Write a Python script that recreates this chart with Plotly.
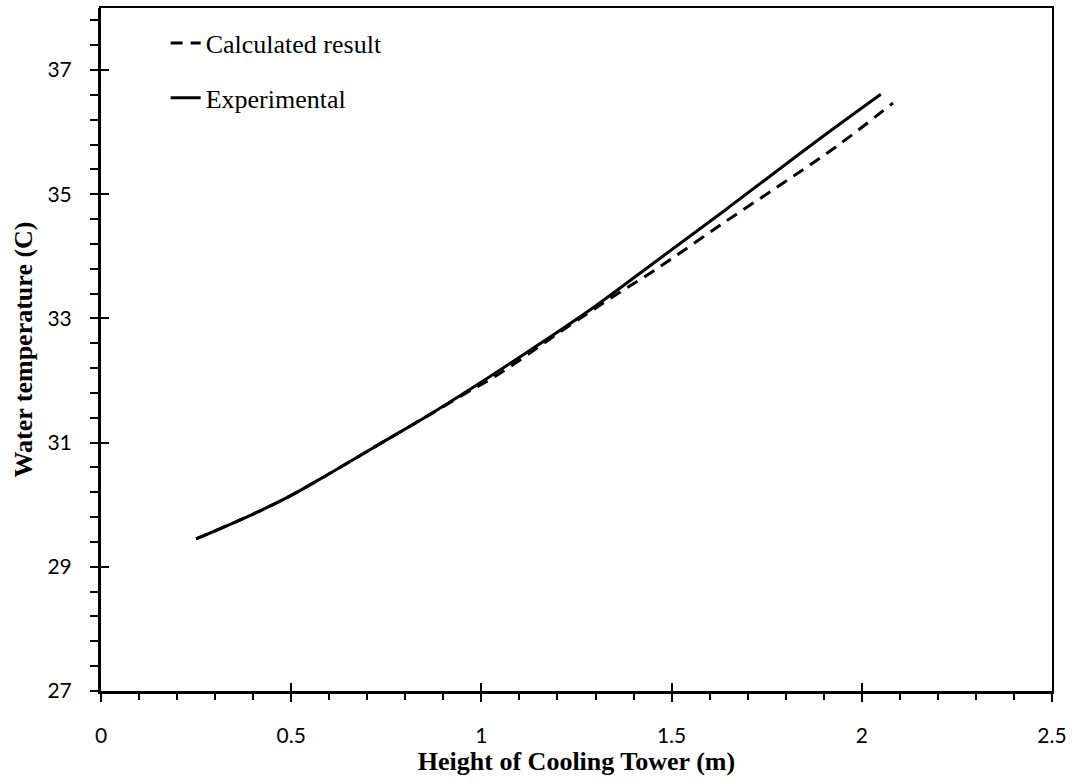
import plotly.graph_objects as go

# Data
exp_x = [0.25, 0.40, 0.50, 0.60, 0.733, 0.85, 0.96, 1.131, 1.302, 1.461, 1.644, 1.871, 2.05]
exp_y = [29.45, 29.85, 30.15, 30.50, 30.98, 31.40, 31.82, 32.50, 33.21, 33.93, 34.76, 35.81, 36.61]

calc_x = [0.25, 0.40, 0.50, 0.60, 0.733, 0.85, 0.96, 1.05, 1.211, 1.336, 1.461, 1.644, 1.815, 1.94, 2.082]
calc_y = [29.45, 29.85, 30.15, 30.50, 30.98, 31.40, 31.80, 32.12, 32.80, 33.31, 33.80, 34.57, 35.27, 35.80, 36.47]

x_title = "Height of Cooling Tower (m)"
y_title = "Water temperature (C)"
names = ["Calculated result", "Experimental"]

fig = go.Figure()
fig.add_trace(go.Scatter(x=calc_x, y=calc_y, mode="lines", name=names[0],
                         line=dict(color="black", width=3, dash="12px,8px", shape="spline"),
                         legendgroup="a"))
fig.add_trace(go.Scatter(x=exp_x, y=exp_y, mode="lines", name=names[1],
                         line=dict(color="black", width=3, shape="spline"),
                         legendgroup="b"))
# dummy trace to activate overlay axes (inside half of crossing ticks + frame)
fig.add_trace(go.Scatter(x=[None], y=[None], xaxis="x2", yaxis="y2", showlegend=False,
                         hoverinfo="skip", mode="lines"))

tickfont = dict(family="Lato", size=21, color="black")
titlefont = dict(family="Liberation Serif", size=26, color="black")

fig.update_layout(
    width=1073, height=784,
    margin=dict(l=101, r=20, t=6, b=93),
    paper_bgcolor="white", plot_bgcolor="white",
    showlegend=True,
    legend=dict(x=0.068, y=0.983, xanchor="left", yanchor="top",
                font=dict(family="Liberation Serif", size=26, color="black"),
                bgcolor="rgba(0,0,0,0)", tracegroupgap=18, traceorder="grouped"),
    xaxis=dict(range=[0, 2.5], dtick=0.5, tick0=0, showgrid=False, zeroline=False,
               showline=True, linecolor="black", linewidth=3,
               ticks="outside", ticklen=8, tickwidth=2, tickcolor="black",
               minor=dict(ticks="outside", ticklen=6, tickwidth=2, tickcolor="black", dtick=0.1, tick0=0, showgrid=False),
               tickfont=tickfont, ticklabelstandoff=16,
               title=dict(text="<b>" + x_title + "</b>", font=titlefont, standoff=0)),
    yaxis=dict(range=[27, 38], dtick=2, tick0=27, showgrid=False, zeroline=False,
               showline=True, linecolor="black", linewidth=3,
               ticks="outside", ticklen=8, tickwidth=2, tickcolor="black",
               minor=dict(ticks="outside", ticklen=8, tickwidth=2, tickcolor="black", dtick=0.4, tick0=27, showgrid=False),
               tickfont=tickfont, ticklabelstandoff=14,
               title=dict(text="<b>" + y_title + "</b>", font=titlefont, standoff=8)),
    xaxis2=dict(overlaying="x", matches="x", anchor="y", range=[0, 2.5], dtick=0.5, tick0=0,
                showgrid=False, zeroline=False, showticklabels=False,
                showline=True, mirror=True, linecolor="black", linewidth=2,
                ticks="inside", ticklen=8, tickwidth=2, tickcolor="black"),
    yaxis2=dict(overlaying="y", matches="y", anchor="x", range=[27, 38], dtick=2, tick0=27,
                showgrid=False, zeroline=False, showticklabels=False,
                showline=True, mirror=True, linecolor="black", linewidth=2,
                ticks="inside", ticklen=8, tickwidth=2, tickcolor="black"),
)

fig.write_html("out.html")
